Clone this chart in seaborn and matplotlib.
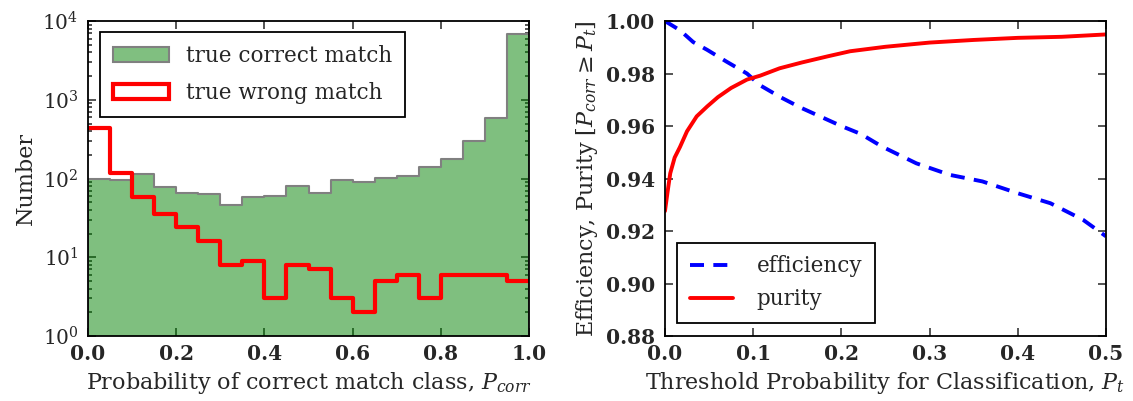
import numpy as np
import pandas as pd
import seaborn as sns
import matplotlib
matplotlib.use("Agg")
import matplotlib.pyplot as plt
from matplotlib.patches import Patch
from matplotlib.lines import Line2D

# histogram of P_corr (20 bins)
bin_edges = [0.0, 0.05, 0.1, 0.15, 0.2, 0.25, 0.3, 0.35, 0.4, 0.45, 0.5,
             0.55, 0.6, 0.65, 0.7, 0.75, 0.8, 0.85, 0.9, 0.95, 1.0]
correct_counts = [100, 95, 114, 78, 66, 63, 46, 58, 60, 81,
                  65, 95, 91, 102, 107, 141, 178, 301, 590, 6840]
wrong_counts = [437, 116, 58, 35, 24, 16, 8, 9, 3, 8,
                7, 3, 2, 5, 6, 3, 6, 6, 6, 5]

# efficiency / purity vs threshold
eff_thresh = [0.0, 0.017, 0.032, 0.048, 0.07, 0.093, 0.108, 0.131, 0.154, 0.177,
              0.2, 0.222, 0.246, 0.285, 0.323, 0.36, 0.4, 0.437, 0.474, 0.5]
efficiency = [1.0, 0.9965, 0.992, 0.989, 0.9845, 0.980, 0.9755, 0.971, 0.967, 0.9635,
              0.960, 0.957, 0.9522, 0.9458, 0.9414, 0.9389, 0.9344, 0.9306, 0.9243, 0.918]
pur_thresh = [0.0, 0.003, 0.006, 0.011, 0.017, 0.025, 0.036, 0.048, 0.06, 0.075, 0.093,
              0.108, 0.13, 0.155, 0.185, 0.21, 0.25, 0.3, 0.35, 0.4, 0.45, 0.5]
purity = [0.9276, 0.935, 0.942, 0.948, 0.952, 0.958, 0.9637, 0.9675, 0.971, 0.9745, 0.9777,
          0.9792, 0.982, 0.9842, 0.9866, 0.9885, 0.9902, 0.9918, 0.9928, 0.9936, 0.994, 0.9949]

sns.set_style("ticks")
plt.rcParams["font.family"] = ["DejaVu Serif"]
plt.rcParams["mathtext.fontset"] = "dejavuserif"
plt.rcParams["axes.linewidth"] = 1.3
plt.rcParams["axes.edgecolor"] = "black"

fig = plt.figure(figsize=(11.33, 4.01), dpi=100)
ax1 = fig.add_axes([0.0777, 0.162, 0.3892, 0.7855])
ax2 = fig.add_axes([0.5869, 0.162, 0.3892, 0.7855])

edges = np.array(bin_edges)
centers = (edges[:-1] + edges[1:]) / 2
df = pd.DataFrame({"p": centers, "correct": correct_counts, "wrong": wrong_counts})

sns.histplot(data=df, x="p", weights="correct", bins=bin_edges, element="step",
             fill=True, color="green", alpha=0.5, edgecolor="gray", linewidth=1.5, ax=ax1)
sns.histplot(data=df, x="p", weights="wrong", bins=bin_edges, element="step",
             fill=False, color="red", linewidth=3, ax=ax1)
ax1.set_yscale("log")
ax1.set_ylim(1, 1e4)
ax1.set_xlim(0, 1)
ax1.set_xticks([0.0, 0.2, 0.4, 0.6, 0.8, 1.0])
ax1.set_xlabel("Probability of correct match class, $P_{corr}$", fontsize=16)
ax1.set_ylabel("Number", fontsize=16)
handles = [Patch(facecolor=(0.5, 0.75, 0.5), edgecolor="gray", linewidth=1.5),
           Patch(facecolor="none", edgecolor="red", linewidth=3)]
leg = ax1.legend(handles, ["true correct match", "true wrong match"], loc="upper left",
                 bbox_to_anchor=(0.027, 0.965), borderaxespad=0, fontsize=15.5,
                 fancybox=False, edgecolor="black", framealpha=1, handlelength=2.6,
                 labelspacing=0.7, borderpad=0.6)
leg.get_frame().set_linewidth(1.3)

eff_df = pd.DataFrame({"t": eff_thresh, "v": efficiency})
pur_df = pd.DataFrame({"t": pur_thresh, "v": purity})
sns.lineplot(data=eff_df, x="t", y="v", color="blue", linewidth=2.8, ax=ax2)
sns.lineplot(data=pur_df, x="t", y="v", color="red", linewidth=2.8, ax=ax2)
ax2.lines[0].set_dashes((3.6, 2.4))
ax2.set_xlim(0, 0.5)
ax2.set_ylim(0.88, 1.0)
ax2.set_xticks([0.0, 0.1, 0.2, 0.3, 0.4, 0.5])
ax2.set_yticks([0.88, 0.90, 0.92, 0.94, 0.96, 0.98, 1.00])
ax2.set_yticklabels(["0.88", "0.90", "0.92", "0.94", "0.96", "0.98", "1.00"])
ax2.set_xlabel("Threshold Probability for Classification, $P_t$", fontsize=16)
ax2.set_ylabel("Efficiency, Purity [$P_{corr} \\geq P_t$]", fontsize=16)
h2 = [Line2D([], [], color="blue", linewidth=2.8, dashes=(3.6, 2.4)),
      Line2D([], [], color="red", linewidth=2.8)]
leg2 = ax2.legend(h2, ["efficiency", "purity"], loc="lower left",
                  bbox_to_anchor=(0.027, 0.041), borderaxespad=0, fontsize=15.5,
                  fancybox=False, edgecolor="black", framealpha=1, handlelength=2.0,
                  handletextpad=1.1, borderpad=0.6)
leg2.get_frame().set_linewidth(1.3)

for ax in (ax1, ax2):
    ax.tick_params(which="both", direction="in", top=True, right=True, width=1.1)
    ax.tick_params(which="major", length=6, labelsize=14.5)
    ax.tick_params(which="minor", length=3)
    ax.tick_params(axis="x", which="major", pad=6)
    ax.tick_params(axis="y", which="major", pad=7)
    for side in ("top", "right", "left", "bottom"):
        ax.spines[side].set_visible(True)
for lab in ax1.get_xticklabels() + ax2.get_xticklabels() + ax2.get_yticklabels():
    lab.set_fontweight("bold")
ax2.minorticks_off()

fig.savefig("out.png", dpi=100)
